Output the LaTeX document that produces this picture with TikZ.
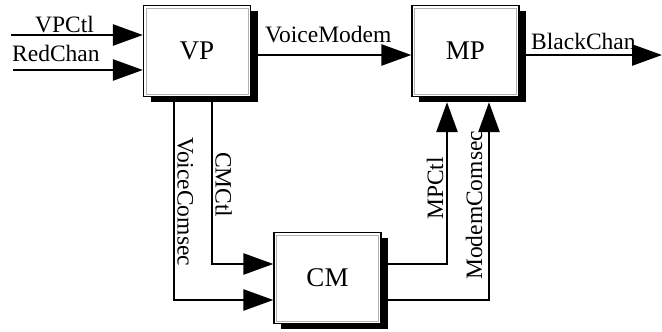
\documentclass[tikz,border=0pt]{standalone}
\usepackage{fontspec}
\setmainfont{Liberation Serif}
\usetikzlibrary{arrows.meta,shadows,calc}
\begin{document}
\begin{tikzpicture}[x=1pt,y=-1pt,
  box/.style={draw=black, line width=1.3pt, fill=white,
    minimum width=107pt, minimum height=91pt, inner sep=0pt,
    font=\fontsize{27}{32}\selectfont,
    drop shadow={shadow xshift=7pt, shadow yshift=-5pt, fill=black, opacity=1},
    path picture={\draw[gray!60, line width=0.8pt]
      ([shift={(2.4pt,-2.4pt)}]path picture bounding box.north west) rectangle
      ([shift={(-2.4pt,2.4pt)}]path picture bounding box.south east);}},
  conn/.style={line width=2.6pt, -{Triangle[length=30pt,width=21pt]}},
  lbl/.style={font=\fontsize{23.5}{28}\selectfont, inner sep=0pt, anchor=base west}]
\useasboundingbox (0,0) rectangle (662,332);

\node[box] (VP) at (197,51) {VP};
\node[box] (MP) at (465.5,51) {MP};
\node[box] (CM) at (327.5,278) {CM};

\coordinate (inA) at (11,35);
\coordinate (inB) at (13,70);
\coordinate (vmy) at (0,55);
\coordinate (out) at (662,55);
\coordinate (vcx) at (174,0);
\coordinate (ccx) at (212,0);
\coordinate (cmA) at (0,264);
\coordinate (cmB) at (0,300);
\coordinate (mpx) at (447,0);
\coordinate (msx) at (489,0);
\coordinate (mpb) at ($(MP.south)+(0,5)$);

\draw[conn] (inA) -- (VP.west |- inA);
\draw[conn] (inB) -- (VP.west |- inB);
\draw[conn] (VP.east |- vmy) -- (MP.west |- vmy);
\draw[conn] (MP.east |- out) -- (out);
\draw[conn] (VP.south -| ccx) |- (CM.west |- cmA);
\draw[conn] (VP.south -| vcx) |- (CM.west |- cmB);
\draw[conn] (CM.east |- cmA) -| (mpb -| mpx);
\draw[conn] (CM.east |- cmB) -| (mpb -| msx);

\node[lbl] (lVPCtl) at (35,32) {VPCtl};
\node[lbl] (lRed) at (12,61) {RedChan};
\node[lbl] (lVM) at (265,42) {VoiceModem};
\node[lbl] (lBC) at (531,49) {BlackChan};
\node[lbl, rotate=-90] (lVC) at (177.5,137) {VoiceComsec};
\node[lbl, rotate=-90] (lCC) at (215.5,152) {CMCtl};
\node[lbl, rotate=90] (lMC) at (443,220) {MPCtl};
\node[lbl, rotate=90] (lMS) at (482,280) {ModemComsec};
\end{tikzpicture}
\end{document}
